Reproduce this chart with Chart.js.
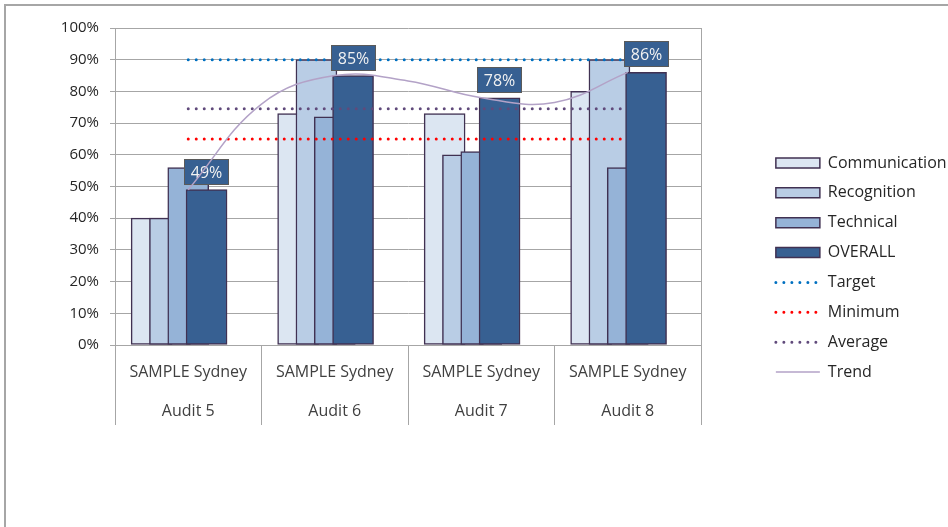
<!DOCTYPE html>
<html>
<head>
<meta charset="utf-8">
<script src="https://cdn.jsdelivr.net/npm/chart.js@4/dist/chart.umd.min.js"></script>
<style>
  html, body { margin: 0; padding: 0; background: #ffffff; }
  #wrap { position: relative; width: 948px; height: 527px; overflow: hidden; background: #ffffff; }
  #frame { position: absolute; left: 4px; top: 4px; width: 1000px; height: 1000px;
           border-top: 2px solid #a6a6a6; border-left: 2px solid #a6a6a6; }
  #c { position: absolute; left: 0; top: 0; }
</style>
</head>
<body>
<div id="wrap">
  <div id="frame"></div>
  <canvas id="c" width="948" height="527"></canvas>
</div>
<script>
// ---- data ----
const sites = ['SAMPLE Sydney', 'SAMPLE Sydney', 'SAMPLE Sydney', 'SAMPLE Sydney'];
const audits = ['Audit 5', 'Audit 6', 'Audit 7', 'Audit 8'];
const communication = [40, 73, 73, 80];
const recognition = [40, 90, 60, 90];
const technical = [56, 72, 61, 56];
const overall = [49, 85, 78, 86];
const target = [90, 90, 90, 90];
const minimum = [65, 65, 65, 65];
const average = [74.5, 74.5, 74.5, 74.5];
// trend curve, at half-category steps
const trendPos = [0, 0.5, 1, 1.5, 2, 2.5, 3];
const trend = [49, 76, 85, 83.3, 78, 76.5, 86];
const yTicks = [0, 10, 20, 30, 40, 50, 60, 70, 80, 90, 100];

// ---- layout constants (not data) ----
const barShift = [-0.25, -0.125, 0, 0.125];
const FONT = '"Open Sans", "Noto Sans", sans-serif';
const BAR_BORDER = '#403152';

const pts = (vals, shift) => vals.map((v, i) => ({ x: i + shift, y: v }));

const labels = sites.map((s, i) => [s, audits[i]]);

const barDs = (label, vals, shift, color, order) => ({
  type: 'bar', label, data: pts(vals, shift), xAxisID: 'xl', yAxisID: 'y',
  backgroundColor: color, borderColor: BAR_BORDER, borderWidth: 1.5,
  borderSkipped: false, barThickness: 41, grouped: false, order, pointStyle: 'rect'
});
const dotDs = (label, vals, color, order) => ({
  type: 'line', label, data: pts(vals, 0), xAxisID: 'xl', yAxisID: 'y',
  borderColor: color, backgroundColor: color, borderWidth: 3, borderDash: [0, 8],
  borderCapStyle: 'round', pointRadius: 0, fill: false, order, pointStyle: 'line'
});

const datasets = [
  barDs('Communication', communication, barShift[0], '#DCE6F2', 7),
  barDs('Recognition', recognition, barShift[1], '#B9CDE5', 6),
  barDs('Technical', technical, barShift[2], '#95B3D7', 5),
  barDs('OVERALL', overall, barShift[3], '#376092', 4),
  dotDs('Target', target, '#0070C0', 3),
  dotDs('Minimum', minimum, '#FF0000', 2),
  dotDs('Average', average, '#604A7B', 1),
  {
    type: 'line', label: 'Trend', xAxisID: 'xl', yAxisID: 'y',
    data: trend.map((v, i) => ({ x: trendPos[i], y: v })),
    borderColor: '#B3A2C7', backgroundColor: '#B3A2C7', borderWidth: 1.5,
    tension: 0.4, pointRadius: 0, fill: false, order: 0, pointStyle: 'line'
  }
];
const OVERALL_IDX = 3, TREND_IDX = 7;

const valueBoxes = {
  id: 'valueBoxes',
  beforeDatasetDraw(chart, args) {
    if (args.index !== TREND_IDX) return;
    const meta = chart.getDatasetMeta(OVERALL_IDX);
    const ctx = chart.ctx;
    ctx.save();
    ctx.font = '16px ' + FONT;
    meta.data.forEach((bar, i) => {
      const text = overall[i] + '%';
      const w = Math.round(ctx.measureText(text).width + 13), h = 26;
      const x = Math.round(bar.x - w / 2), y = Math.round(bar.y - 5 - h);
      ctx.fillStyle = '#376092';
      ctx.fillRect(x, y, w, h);
      ctx.strokeStyle = '#5a5a5a';
      ctx.lineWidth = 1;
      ctx.strokeRect(x + 0.5, y + 0.5, w - 1, h - 1);
      ctx.fillStyle = '#F2F2F2';
      ctx.textAlign = 'center';
      ctx.textBaseline = 'middle';
      ctx.fillText(text, x + w / 2, y + h / 2 + 1);
    });
    ctx.restore();
  }
};

const GRID = '#a6a6a6';

new Chart(document.getElementById('c'), {
  type: 'bar',
  data: { labels, datasets },
  options: {
    responsive: false,
    animation: false,
    devicePixelRatio: 1,
    layout: { padding: { left: 0, top: 28, right: 0, bottom: 20 } },
    plugins: {
      tooltip: { enabled: false },
      legend: {
        position: 'right',
        maxWidth: 186,
        labels: {
          usePointStyle: true,
          pointStyleWidth: 44,
          boxHeight: 10,
          padding: 13.86,
          color: '#262626',
          font: { family: FONT, size: 16 },
          sort: (a, b) => a.datasetIndex - b.datasetIndex,
          generateLabels(chart) {
            const items = Chart.defaults.plugins.legend.labels.generateLabels(chart);
            items.forEach(it => {
              const ds = chart.data.datasets[it.datasetIndex];
              if (ds.type === 'line') {
                it.pointStyle = 'line';
                it.lineDash = ds.borderDash || [];
                it.lineCap = ds.borderCapStyle || 'butt';
                it.lineWidth = ds.borderWidth;
                it.strokeStyle = ds.borderColor;
                it.fillStyle = ds.borderColor;
              } else {
                it.pointStyle = 'rect';
                it.lineDash = [];
                it.lineWidth = 1.5;
                it.fillStyle = ds.backgroundColor;
                it.strokeStyle = ds.borderColor;
              }
            });
            return items;
          }
        }
      }
    },
    scales: {
      x: {
        type: 'category',
        position: 'bottom',
        offset: true,
        grid: { offset: true, drawOnChartArea: false, drawTicks: true, tickLength: 80, color: GRID, lineWidth: 1 },
        border: { display: true, color: GRID, width: 1 },
        ticks: {
          color: '#404040', font: { family: FONT, size: 16, lineHeight: 2.44 },
          padding: -72.5, maxRotation: 0, minRotation: 0, autoSkip: false
        },
        afterFit: (s) => { s.height = 162; }
      },
      xl: {
        type: 'linear', position: 'bottom', display: false, offset: false,
        min: -0.5, max: 3.5, grace: 0, bounds: 'data'
      },
      y: {
        type: 'linear', position: 'left', min: 0, max: 100,
        afterBuildTicks: (s) => { s.ticks = yTicks.map(v => ({ value: v })); },
        grid: { color: GRID, lineWidth: 1, drawTicks: true, tickLength: 5 },
        border: { display: true, color: GRID, width: 1 },
        ticks: {
          color: '#262626', font: { family: FONT, size: 15 }, padding: 11,
          callback: (v) => v + '%'
        },
        afterFit: (s) => { s.width = 115; }
      },
      yR: {
        type: 'linear', position: 'right', display: true, min: 0, max: 100,
        grid: { display: false, drawTicks: false },
        border: { display: true, color: GRID, width: 1 },
        ticks: { display: false },
        afterFit: (s) => { s.width = 61; }
      }
    }
  },
  plugins: [valueBoxes]
});
</script>
</body>
</html>
